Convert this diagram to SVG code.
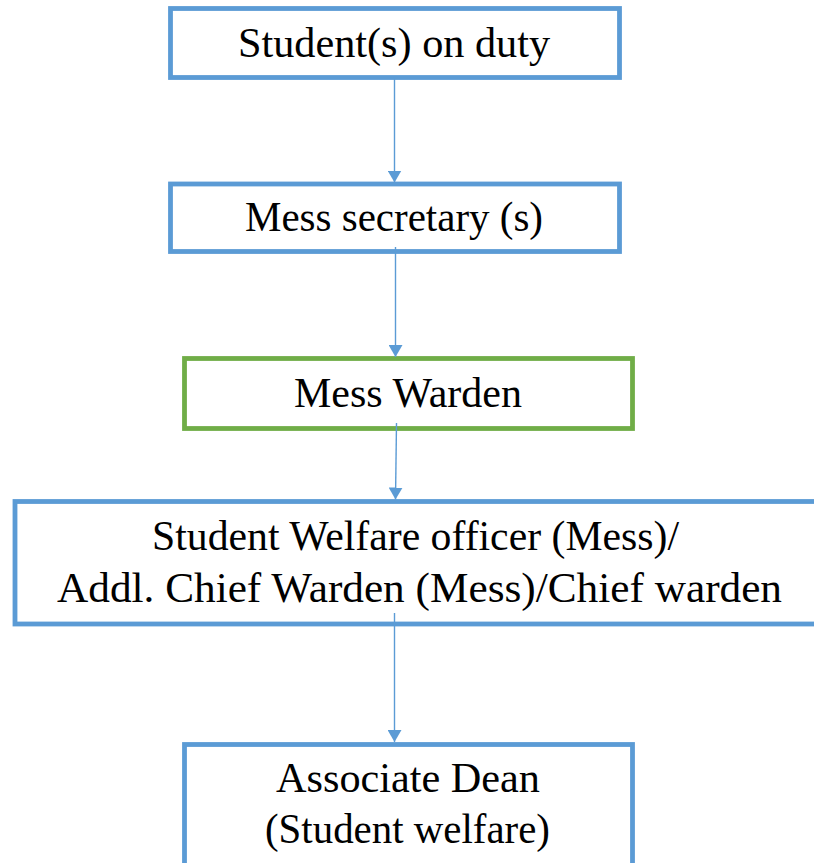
<svg xmlns="http://www.w3.org/2000/svg" width="814" height="863" viewBox="0 0 814 863">
<style>
.box{fill:#fff;stroke:#5B9BD5;stroke-width:4.8}
.green{stroke:#70AD47}
.lbl{font-family:"Liberation Serif","Times New Roman",serif;font-size:42px;fill:#000}
.conn{stroke:#5B9BD5;stroke-width:1.4;fill:none}
</style>
<defs>
<marker id="ah" markerUnits="userSpaceOnUse" markerWidth="14" markerHeight="14" viewBox="0 0 14 14" refX="12" refY="7" orient="auto">
<path d="M0,0 L12,7 L0,14 Z" fill="#5B9BD5"/>
</marker>
</defs>
<g id="n1">
<rect class="box" x="170.5" y="8.5" width="449" height="69"/>
<text class="lbl" x="238" y="57" textLength="312" lengthAdjust="spacingAndGlyphs">Student(s) on duty</text>
</g>
<g id="n2">
<rect class="box" x="170.5" y="184" width="449" height="67.5"/>
<text class="lbl" x="245" y="231" textLength="298" lengthAdjust="spacingAndGlyphs">Mess secretary (s)</text>
</g>
<g id="n3">
<rect class="box green" x="184.5" y="358.5" width="448" height="70"/>
<text class="lbl" x="294" y="407" textLength="228" lengthAdjust="spacingAndGlyphs">Mess Warden</text>
</g>
<g id="n4">
<rect class="box" x="15" y="501.5" width="830" height="122.5"/>
<text class="lbl" x="152" y="550" textLength="527" lengthAdjust="spacingAndGlyphs">Student Welfare officer (Mess)/</text>
<text class="lbl" x="57" y="601.5" textLength="725" lengthAdjust="spacingAndGlyphs">Addl. Chief Warden (Mess)/Chief warden</text>
</g>
<g id="n5">
<rect class="box" x="184.5" y="744.5" width="448" height="140"/>
<text class="lbl" x="276" y="792" textLength="264" lengthAdjust="spacingAndGlyphs">Associate Dean</text>
<text class="lbl" x="265" y="843" textLength="285" lengthAdjust="spacingAndGlyphs">(Student welfare)</text>
</g>
<g id="connectors">
<line class="conn" x1="394.5" y1="77" x2="394.5" y2="182.5" marker-end="url(#ah)"/>
<line class="conn" x1="395.5" y1="247" x2="395.5" y2="357" marker-end="url(#ah)"/>
<line class="conn" x1="396.5" y1="423" x2="395.5" y2="499.5" marker-end="url(#ah)"/>
<line class="conn" x1="394.5" y1="613" x2="394.5" y2="742" marker-end="url(#ah)"/>
</g>
</svg>
